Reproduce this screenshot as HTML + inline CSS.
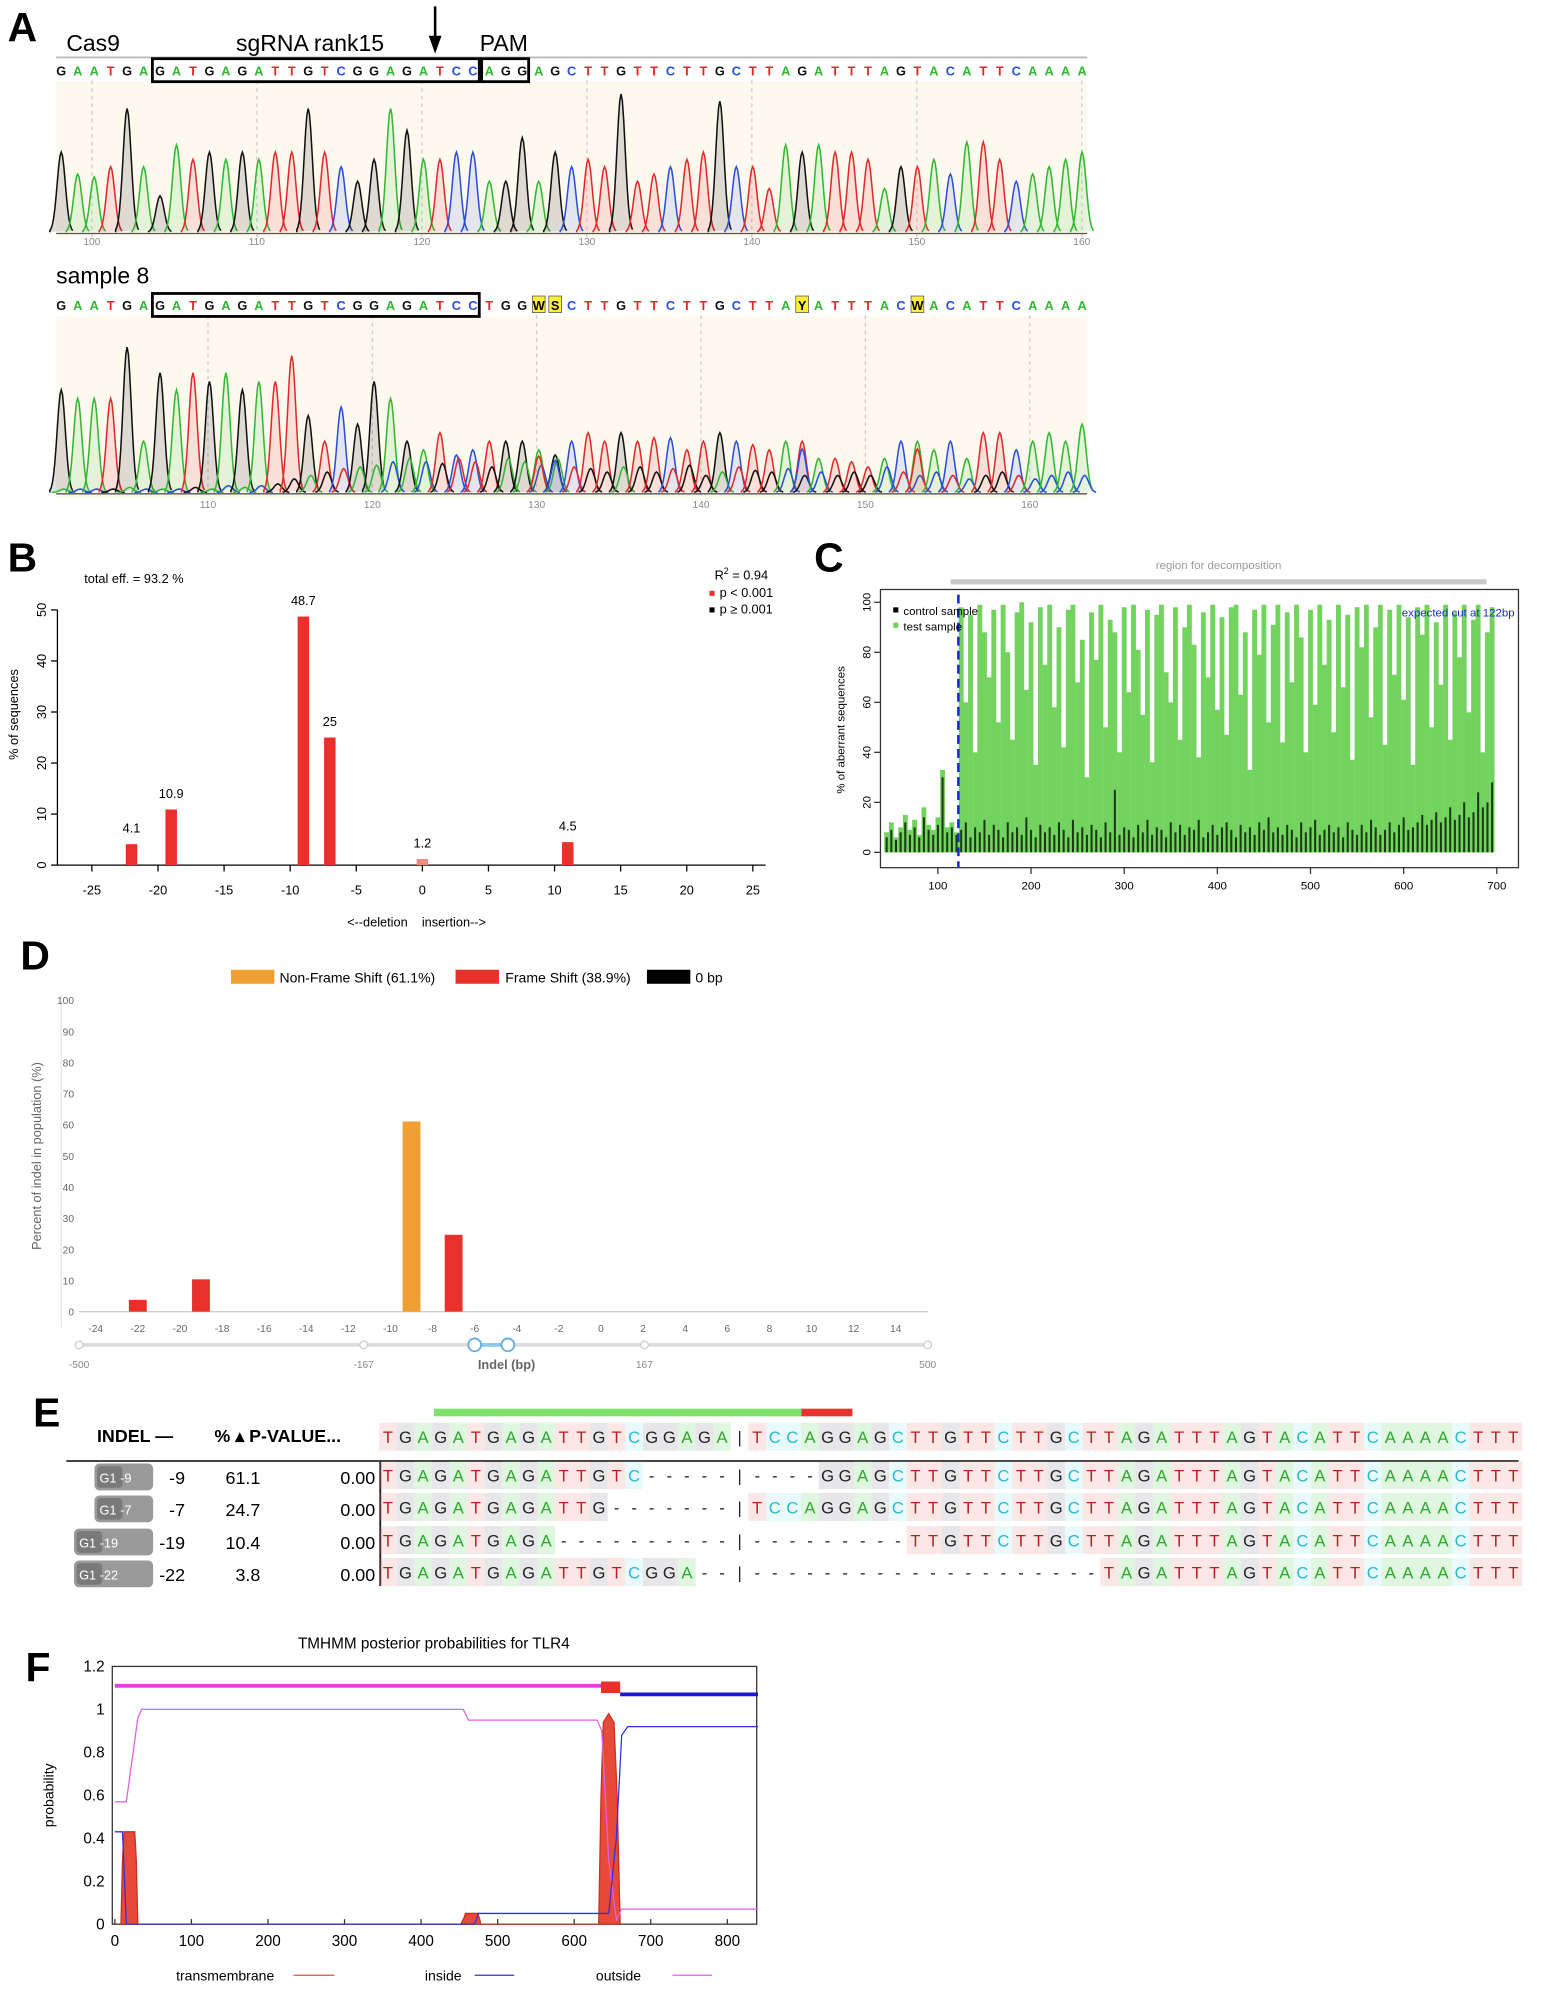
<!DOCTYPE html>
<html><head><meta charset="utf-8"><style>
html,body{margin:0;padding:0;background:#fff;}
svg{display:block;font-family:"Liberation Sans",sans-serif;}
</style></head><body>
<svg id="fig" width="1544" height="2002" viewBox="0 0 1210 1569" preserveAspectRatio="none" xmlns="http://www.w3.org/2000/svg">
<g id="A">
<text x="6" y="32" font-size="32" font-weight="bold">A</text>
<text x="52" y="40" font-size="18">Cas9</text>
<text x="185" y="40" font-size="18">sgRNA rank15</text>
<text x="376" y="40" font-size="18">PAM</text>
<line x1="341" y1="5" x2="341" y2="34" stroke="#000" stroke-width="2"/>
<polygon points="336,28 346,28 341,42" fill="#000"/>
<line x1="44" y1="45" x2="852" y2="45" stroke="#bbb" stroke-width="1.5"/>
<text x="44" y="222" font-size="18">sample 8</text>
</g>
<g id="B">
<text x="6" y="448" font-size="32" font-weight="bold">B</text>
<text x="66" y="457" font-size="10">total eff. = 93.2 %</text>
<text x="560" y="454" font-size="10">R<tspan dy="-4" font-size="7">2</tspan><tspan dy="4"> = 0.94</tspan></text>
<rect x="556" y="463" width="4" height="4" fill="#e8312a"/>
<text x="564" y="468" font-size="10">p &lt; 0.001</text>
<rect x="556" y="476" width="4" height="4" fill="#000"/>
<text x="564" y="481" font-size="10">p ≥ 0.001</text>
<text x="272" y="726" font-size="10" xml:space="preserve" style="white-space:pre">&lt;--deletion    insertion--&gt;</text>
<text transform="translate(14,560) rotate(-90)" font-size="10" text-anchor="middle">% of sequences</text>
</g>
<g id="C">
<text x="638" y="448" font-size="32" font-weight="bold">C</text>
<rect x="745" y="454" width="420" height="4" fill="#c8c8c8"/>
<text x="955" y="446" font-size="9" fill="#999" text-anchor="middle">region for decomposition</text>
<rect x="690" y="462" width="500" height="218" fill="none" stroke="#333"/>
<text transform="translate(662,572) rotate(-90)" font-size="9" text-anchor="middle">% of aberrant sequences</text>
</g>
<g id="D">
<text x="16" y="760" font-size="32" font-weight="bold">D</text>
<rect x="181" y="760" width="34" height="11" fill="#f0a030"/>
<text x="219" y="770" font-size="11">Non-Frame Shift (61.1%)</text>
<rect x="357" y="760" width="34" height="11" fill="#e8312a"/>
<text x="396" y="770" font-size="11">Frame Shift (38.9%)</text>
<rect x="507" y="760" width="34" height="11" fill="#000"/>
<text x="545" y="770" font-size="11">0 bp</text>
<line x1="48" y1="780" x2="48" y2="1040" stroke="#e6e6e6"/>
<text transform="translate(32,906) rotate(-90)" font-size="10" fill="#666" text-anchor="middle">Percent of indel in population (%)</text>
<line x1="62" y1="1054" x2="727" y2="1054" stroke="#ddd" stroke-width="3"/>
<line x1="372" y1="1054" x2="398" y2="1054" stroke="#8cc8e8" stroke-width="3"/>
<circle cx="62" cy="1054" r="3" fill="#fff" stroke="#ccc"/>
<circle cx="285" cy="1054" r="3" fill="#fff" stroke="#ccc"/>
<circle cx="505" cy="1054" r="3" fill="#fff" stroke="#ccc"/>
<circle cx="727" cy="1054" r="3" fill="#fff" stroke="#ccc"/>
<circle cx="372" cy="1054" r="5" fill="#fff" stroke="#6ab0de" stroke-width="1.5"/>
<circle cx="398" cy="1054" r="5" fill="#fff" stroke="#6ab0de" stroke-width="1.5"/>
<text x="62" y="1072" font-size="8" fill="#888" text-anchor="middle">-500</text>
<text x="285" y="1072" font-size="8" fill="#888" text-anchor="middle">-167</text>
<text x="505" y="1072" font-size="8" fill="#888" text-anchor="middle">167</text>
<text x="727" y="1072" font-size="8" fill="#888" text-anchor="middle">500</text>
<text x="397" y="1073" font-size="10" fill="#666" text-anchor="middle" font-weight="bold">Indel (bp)</text>
</g>
<g id="E">
<text x="26" y="1118" font-size="32" font-weight="bold">E</text>
<rect x="340" y="1104" width="288" height="6" fill="#7ee26a"/>
<rect x="628" y="1104" width="40" height="6" fill="#e8312a"/>
<text x="76" y="1130" font-size="14" font-weight="bold">INDEL —</text>
<text x="168" y="1130" font-size="14" font-weight="bold">% ▴ P-VALUE...</text>
<line x1="52" y1="1145" x2="1190" y2="1145" stroke="#444" stroke-width="1.5"/>
<line x1="298" y1="1145" x2="298" y2="1243" stroke="#222" stroke-width="1.5"/>
</g>
<g id="F">
<text x="20" y="1318" font-size="32" font-weight="bold">F</text>
<text x="340" y="1292" font-size="12" text-anchor="middle">TMHMM posterior probabilities for TLR4</text>
<rect x="88" y="1306" width="505" height="202" fill="none" stroke="#333"/>
<text transform="translate(42,1407) rotate(-90)" font-size="11" text-anchor="middle">probability</text>
<text x="138" y="1552" font-size="11">transmembrane</text>
<line x1="230" y1="1548" x2="262" y2="1548" stroke="#e84a3a"/>
<text x="333" y="1552" font-size="11">inside</text>
<line x1="372" y1="1548" x2="403" y2="1548" stroke="#3030e0"/>
<text x="467" y="1552" font-size="11">outside</text>
<line x1="527" y1="1548" x2="558" y2="1548" stroke="#e060e0"/>
</g>
</svg>
<script>
// ---------- DATA ----------
const refSeq = "GAATGAGATGAGATTGTCGGAGATCCAGGAGCTTGTTCTTGCTTAGATTTAGTACATTCAAAA";
const refHeights = [0.55,0.4,0.38,0.45,0.85,0.45,0.25,0.6,0.5,0.55,0.5,0.55,0.5,0.55,0.55,0.85,0.55,0.45,0.35,0.5,0.85,0.7,0.5,0.5,0.55,0.55,0.35,0.35,0.65,0.35,0.55,0.45,0.5,0.45,0.95,0.35,0.4,0.45,0.5,0.55,0.9,0.45,0.45,0.3,0.6,0.55,0.6,0.55,0.55,0.5,0.3,0.45,0.45,0.5,0.4,0.62,0.62,0.5,0.35,0.4,0.45,0.5,0.55];
const sampleSeq = "GAATGAGATGAGATTGTCGGAGATCCTGGWSCTTGTTCTTGCTTAYATTTACWACATTCAAAA";
const sampleHeights = [0.6,0.55,0.55,0.55,0.85,0.3,0.7,0.6,0.7,0.65,0.7,0.6,0.65,0.65,0.8,0.45,0.3,0.5,0.4,0.65,0.55,0.3,0.25,0.35,0.22,0.25,0.3,0.3,0.3,0.25,0.22,0.3,0.35,0.3,0.35,0.3,0.32,0.32,0.25,0.3,0.35,0.3,0.28,0.25,0.3,0.3,0.2,0.2,0.18,0.15,0.2,0.3,0.3,0.25,0.3,0.2,0.35,0.35,0.25,0.3,0.35,0.3,0.4];
const sampleSecondary = [0.02,0.02,0.02,0.02,0.03,0.02,0.02,0.02,0.03,0.02,0.04,0.03,0.04,0.05,0.08,0.1,0.12,0.14,0.15,0.16,0.18,0.2,0.18,0.17,0.2,0.18,0.15,0.2,0.18,0.16,0.2,0.15,0.14,0.12,0.15,0.15,0.12,0.14,0.16,0.1,0.12,0.15,0.13,0.12,0.14,0.1,0.12,0.1,0.12,0.1,0.15,0.12,0.1,0.12,0.1,0.08,0.1,0.12,0.1,0.08,0.1,0.12,0.1];
const refAxisTicks = [100,110,120,130,140,150,160];
const sampleAxisTicks = [110,120,130,140,150,160];

const bCategories = [-22,-19,-9,-7,0,11];
const bValues = [4.1,10.9,48.7,25,1.2,4.5];
const bLabels = ["4.1","10.9","48.7","25","1.2","4.5"];
const bXTicks = [-25,-20,-15,-10,-5,0,5,10,15,20,25];
const bYTicks = [0,10,20,30,40,50];

const cStart = 45, cStep = 5;
const cTest = [8,12,6,10,15,9,13,7,18,11,9,14,33,10,12,8,
98,60,95,40,99,88,70,97,52,99,80,45,96,100,65,92,35,98,75,99,58,90,42,97,99,68,85,30,96,77,99,50,93,88,40,98,64,99,81,55,97,36,95,99,72,60,98,45,90,99,83,38,96,70,99,57,94,47,98,99,63,88,33,97,79,99,52,91,99,44,96,68,99,86,40,97,59,99,75,93,48,99,66,95,37,98,82,99,54,90,99,43,97,71,99,61,94,35,98,87,99,50,92,67,99,45,96,78,99,56,93,99,40,88,98];
const cControl = [6,9,5,8,12,7,10,6,14,9,7,11,30,8,10,7,9,12,6,10,8,13,7,11,9,6,12,8,10,7,14,9,6,11,8,10,7,12,9,6,13,8,10,7,11,9,6,12,8,25,7,10,9,6,11,8,13,7,10,9,6,12,8,11,7,10,9,13,6,8,11,7,10,12,9,6,11,8,10,7,12,9,14,8,10,7,11,9,6,12,8,10,13,7,9,11,8,10,6,12,9,7,11,8,13,10,7,9,12,8,11,14,9,10,12,15,11,13,16,12,14,18,13,15,20,14,16,24,18,20,28];
const cXTicks = [100,200,300,400,500,600,700];
const cYTicks = [0,20,40,60,80,100];
const cCut = 122;

const dCategories = [-22,-19,-9,-7];
const dValues = [3.8,10.4,61.1,24.7];
const dTypes = ["fs","fs","nfs","fs"];
const dXTicks = [-24,-22,-20,-18,-16,-14,-12,-10,-8,-6,-4,-2,0,2,4,6,8,10,12,14];
const dYTicks = [0,10,20,30,40,50,60,70,80,90,100];

const eRef = "TGAGATGAGATTGTCGGAGA|TCCAGGAGCTTGTTCTTGCTTAGATTTAGTACATTCAAAACTTT";
const eRows = [
 "TGAGATGAGATTGTC-----|----GGAGCTTGTTCTTGCTTAGATTTAGTACATTCAAAACTTT",
 "TGAGATGAGATTG-------|TCCAGGAGCTTGTTCTTGCTTAGATTTAGTACATTCAAAACTTT",
 "TGAGATGAGA----------|---------TTGTTCTTGCTTAGATTTAGTACATTCAAAACTTT",
 "TGAGATGAGATTGTCGGA--|--------------------TAGATTTAGTACATTCAAAACTTT"];
const eIndels = ["-9","-7","-19","-22"];
const ePercents = ["61.1","24.7","10.4","3.8"];
const ePvalues = ["0.00","0.00","0.00","0.00"];

const fPos = [0,10,15,30,35,455,462,470,475,630,636,645,655,662,670,840];
const fOutside = [0.57,0.57,0.57,0.96,1.0,1.0,0.95,0.95,0.95,0.95,0.9,0.3,0.02,0.07,0.07,0.07];
const fInside = [0.43,0.43,0.0,0.0,0.0,0.0,0.0,0.0,0.05,0.05,0.05,0.05,0.4,0.88,0.92,0.92];
const fTmPos = [8,10,12,26,28,30,452,456,458,474,476,478,632,635,638,645,652,656,660];
const fTmVal = [0,0.3,0.43,0.43,0.3,0,0,0.03,0.05,0.05,0.03,0,0,0.6,0.94,0.98,0.94,0.6,0];
const fXTicks = [0,100,200,300,400,500,600,700,800];
const fYTicks = [0,0.2,0.4,0.6,0.8,1,1.2];
const fTopOutsideEnd = 635, fTmEnd = 660, fMax = 840;

// ---------- HELPERS ----------
const NS = "http://www.w3.org/2000/svg";
const svg = document.getElementById('fig');
function mk(tag, attrs, parent) {
  const e = document.createElementNS(NS, tag);
  for (const k in attrs) e.setAttribute(k, attrs[k]);
  (parent || svg).appendChild(e);
  return e;
}
const baseColor = {A:"#30b830",C:"#2a4fd8",G:"#111",T:"#e02a2a"};
const baseFill = {A:"rgba(60,200,60,0.13)",C:"rgba(60,90,230,0.12)",G:"rgba(0,0,0,0.12)",T:"rgba(230,50,50,0.12)"};

// ---------- PANEL A ----------
function drawChrom(seq, heights, secondary, rowY, bgTop, bgBot, ticks, tickX0, tickVal0, tickDx, labelY, boxes, name) {
  const gA = document.getElementById('A');
  const bg = mk('rect', {x:44, y:bgTop, width:808, height:bgBot-bgTop, fill:"#fdf9ef"}, gA);
  
  
  const n = seq.length, x0 = 48, dx = (848-48)/(n-1);
  const plotH = bgBot - bgTop - 8;
  ticks.forEach(t => {
    const tx = tickX0 + (t - tickVal0) * tickDx;
    const l = mk('line', {x1:tx, y1:rowY+8, x2:tx, y2:bgBot, stroke:"#ccc", "stroke-dasharray":"3,3"}, gA);
    
    
    const lb = mk('text', {x:tx, y:labelY, "font-size":8, fill:"#888", "text-anchor":"middle"}, gA);
    lb.textContent = t;
    
    
  });
  for (let i = 0; i < n; i++) {
    let b = seq[i];
    const cx = x0 + i*dx;
    const t = mk('text', {x:cx, y:rowY+4, "font-size":10, "text-anchor":"middle", fill: baseColor[b] || "#000", "font-weight": "bold"}, gA);
    if (!baseColor[b]) {
      const hl = mk('rect', {x:cx-5, y:rowY-7, width:10, height:13, fill:"#ffef3a", stroke:"#555", "stroke-width":0.6}, gA);
      
      
      gA.appendChild(t);
    }
    t.textContent = b;
    
    
    const colB = baseColor[b] ? b : ({W:"A",S:"G",Y:"T"}[b] || "A");
    const h = (heights[i] || 0.4) * plotH;
    const base = bgBot - 4;
    const peak = (cx0, hh, col, fill) => {
      let d = "M" + (cx0-9) + "," + base;
      for (let k = -9; k <= 9; k += 1) d += " L" + (cx0+k) + "," + (base - hh*Math.exp(-(k*k)/(2*3.2*3.2))).toFixed(1);
      const p = mk('path', {d:d, stroke:baseColor[col], "stroke-width":1.2, fill: fill ? baseFill[col] : "none"}, gA);
      
      
    };
    peak(cx, h, colB, true);
    if (secondary) {
      const alt = {A:"C",C:"T",G:"A",T:"G"}[colB];
      peak(cx + 2, (secondary[i]||0.05)*plotH, alt, false);
      if (!baseColor[b]) peak(cx, h*0.85, {W:"T",S:"C",Y:"C"}[b] || "T", true);
    }
  }
  const bl = mk('line', {x1:44, y1:bgBot-3, x2:852, y2:bgBot-3, stroke:"#555", "stroke-width":1}, gA);
  
  
  boxes.forEach(bx => {
    const r = mk('rect', {x:x0 + bx[0]*dx - 6, y:rowY-9, width:(bx[1]-bx[0])*dx + 12 - 1, height:18, fill:"none", stroke:"#000", "stroke-width":2.2}, gA);
    
    
  });
}
drawChrom(refSeq, refHeights, null, 55, 64, 186, refAxisTicks, 72, 100, 12.93, 192, [[6,25,'sgrna-box'],[26,28,'pam-box']], 'reference-chromatogram');
drawChrom(sampleSeq, sampleHeights, sampleSecondary, 239, 248, 390, sampleAxisTicks, 163, 110, 12.88, 398, [[6,25,'sgrna-box-sample']], 'sample-chromatogram');

// ---------- PANEL B ----------
(function(){
  const g = document.getElementById('B');
  const X = v => 331 + v*10.36, Y = v => 678 - v*4;
  const ax = mk('line', {x1:45, y1:678, x2:600, y2:678, stroke:"#000"}, g);
   
  const ay = mk('line', {x1:45, y1:Y(50), x2:45, y2:678, stroke:"#000"}, g);
   
  bXTicks.forEach(t => {
    const l = mk('line', {x1:X(t), y1:678, x2:X(t), y2:683, stroke:"#000"}, g);
     
    const tx = mk('text', {x:X(t), y:701, "font-size":10, "text-anchor":"middle"}, g);
    tx.textContent = t;
     
  });
  bYTicks.forEach(t => {
    const l = mk('line', {x1:40, y1:Y(t), x2:45, y2:Y(t), stroke:"#000"}, g);
     
    const tx = mk('text', {transform:"translate(36,"+Y(t)+") rotate(-90)", "font-size":10, "text-anchor":"middle"}, g);
    tx.textContent = t;
     
  });
  bCategories.forEach((c,i) => {
    const r = mk('rect', {x:X(c)-4.5, y:Y(bValues[i]), width:9, height:bValues[i]*4, fill: bValues[i] < 2 ? "#f08a80" : "#e8312a"}, g);
     
    const tx = mk('text', {x:X(c), y:Y(bValues[i]) - 9, "font-size":10, "text-anchor":"middle"}, g);
    tx.textContent = bLabels[i];
     
  });
})();

// ---------- PANEL C ----------
(function(){
  const g = document.getElementById('C');
  const X = v => 735 + (v-100)*0.73, Y = v => 668 - v*1.96;
  cTest.forEach((v,i) => {
    const p = cStart + i*cStep;
    const r = mk('rect', {x:X(p)-1.9, y:Y(v), width:3.8, height:v*1.96, fill:"#72d45e"}, g);
     
  });
  cControl.forEach((v,i) => {
    const p = cStart + i*cStep;
    const r = mk('rect', {x:X(p)-0.8, y:Y(v), width:1.6, height:v*1.96, fill:"#1a3a12"}, g);
     
  });
  const cut = mk('line', {x1:X(cCut), y1:466, x2:X(cCut), y2:680, stroke:"#1a2ad0", "stroke-width":2, "stroke-dasharray":"7,4"}, g);
   
  const ct = mk('text', {x:1187, y:483, "font-size":9, fill:"#1a2ad0", "text-anchor":"end"}, g);
  ct.textContent = "expected cut at " + cCut + "bp";
   
  const s1 = mk('rect', {x:700, y:476, width:4, height:4, fill:"#000"}, g);
   
  const l1 = mk('text', {x:708, y:482, "font-size":9}, g); l1.textContent = "control sample";
   
  const s2 = mk('rect', {x:700, y:488, width:4, height:4, fill:"#6fd35a"}, g);
   
  const l2 = mk('text', {x:708, y:494, "font-size":9}, g); l2.textContent = "test sample";
   
  cXTicks.forEach(t => {
    const l = mk('line', {x1:X(t), y1:680, x2:X(t), y2:685, stroke:"#333"}, g);
     
    const tx = mk('text', {x:X(t), y:697, "font-size":9, "text-anchor":"middle"}, g); tx.textContent = t;
     
  });
  cYTicks.forEach(t => {
    const l = mk('line', {x1:685, y1:Y(t), x2:690, y2:Y(t), stroke:"#333"}, g);
     
    const tx = mk('text', {transform:"translate(682,"+Y(t)+") rotate(-90)", "font-size":9, "text-anchor":"middle"}, g); tx.textContent = t;
     
  });
})();

// ---------- PANEL D ----------
(function(){
  const g = document.getElementById('D');
  const X = v => 75 + (v+24)*16.5, Y = v => 1028 - v*2.44;
  const ax = mk('line', {x1:62, y1:1028, x2:727, y2:1028, stroke:"#ccc"}, g);
   
  dYTicks.forEach(t => {
    const tx = mk('text', {x:58, y:Y(t)+3, "font-size":8, fill:"#666", "text-anchor":"end"}, g); tx.textContent = t;
     
  });
  dXTicks.forEach(t => {
    const tx = mk('text', {x:X(t), y:1044, "font-size":8, fill:"#666", "text-anchor":"middle"}, g); tx.textContent = t;
     
  });
  dCategories.forEach((c,i) => {
    const r = mk('rect', {x:X(c)-7, y:Y(dValues[i]), width:14, height:dValues[i]*2.44, fill: dTypes[i]==="nfs" ? "#f0a030" : "#e8312a"}, g);
     
  });
})();

// ---------- PANEL E ----------
(function(){
  const g = document.getElementById('E');
  const x0 = 304, dx = (1186-304)/64;
  const tint = {T:"rgba(240,120,120,0.18)",A:"rgba(100,210,100,0.2)",G:"rgba(60,60,80,0.12)",C:"rgba(100,220,240,0.14)"};
  const col = {T:"#b52020",A:"#2ea82e",G:"#222",C:"#28b8d0"};
  function row(seq, y, name) {
    for (let i = 0; i < seq.length; i++) {
      const ch = seq[i], cx = x0 + i*dx;
      if (tint[ch]) {
        const r = mk('rect', {x:cx-dx/2, y:y-14, width:dx, height:22, fill:tint[ch]}, g);
         
      }
      const t = mk('text', {x:cx, y:y+2, "font-size":13, "text-anchor":"middle", fill: col[ch] || "#222"}, g);
      t.textContent = ch;
       
    }
  }
  row(eRef, 1129, 'reference-sequence');
  const rowYs = [1159, 1184, 1210, 1235];
  eRows.forEach((s,i) => {
    const y = rowYs[i];
    row(s, y, 'allele-row-' + (i+1));
    const bw = i < 2 ? 46 : 62, bx = i < 2 ? 74 : 58;
    const b = mk('rect', {x:bx, y:y-12, width:bw, height:21, rx:4, fill:"#9a9a9a"}, g);
     
    const b2 = mk('rect', {x:bx+2, y:y-10, width:20, height:17, rx:3, fill:"#7a7a7a"}, g);
     
    const bt = mk('text', {x:bx+4, y:y+3, "font-size":10, fill:"#fff"}, g);
    bt.textContent = "G1  " + eIndels[i];
     
    const t1 = mk('text', {x:145, y:y+4, "font-size":14, "text-anchor":"end"}, g); t1.textContent = eIndels[i];
     
    const t2 = mk('text', {x:204, y:y+4, "font-size":14, "text-anchor":"end"}, g); t2.textContent = ePercents[i];
     
    const t3 = mk('text', {x:294, y:y+4, "font-size":14, "text-anchor":"end"}, g); t3.textContent = ePvalues[i];
     
  });
})();

// ---------- PANEL F ----------
(function(){
  const g = document.getElementById('F');
  const X = v => 90 + v*0.6, Y = v => 1508 - v*168.3;
  fXTicks.forEach(t => {
    const l = mk('line', {x1:X(t), y1:1508, x2:X(t), y2:1504, stroke:"#333"}, g);
     
    const tx = mk('text', {x:X(t), y:1525, "font-size":12, "text-anchor":"middle"}, g); tx.textContent = t;
     
  });
  fYTicks.forEach(t => {
    const tx = mk('text', {x:82, y:Y(t)+4, "font-size":12, "text-anchor":"end"}, g); tx.textContent = t;
     
  });
  let d = "M" + X(fTmPos[0]) + "," + Y(0);
  fTmPos.forEach((p,i) => d += " L" + X(p) + "," + Y(fTmVal[i]));
  const tm = mk('path', {d:d + " Z", fill:"#e84a3a", stroke:"#c83020"}, g);
   
  const line = (vals, color, name) => {
    const pts = fPos.map((p,i) => X(p) + "," + Y(vals[i])).join(" ");
    const pl = mk('polyline', {points:pts, fill:"none", stroke:color, "stroke-width":1}, g);
     
  };
  line(fOutside, "#e060e0", 'outside-line');
  line(fInside, "#3030e0", 'inside-line');
  const t1 = mk('line', {x1:X(0), y1:Y(1.11), x2:X(fTopOutsideEnd), y2:Y(1.11), stroke:"#e040e0", "stroke-width":3}, g);
   
  const t2 = mk('rect', {x:X(fTopOutsideEnd), y:Y(1.13), width:X(fTmEnd)-X(fTopOutsideEnd), height:9, fill:"#e8312a"}, g);
   
  const t3 = mk('line', {x1:X(fTmEnd), y1:Y(1.07), x2:X(fMax), y2:Y(1.07), stroke:"#1818d0", "stroke-width":3}, g);
   
})();
</script>
</body></html>
